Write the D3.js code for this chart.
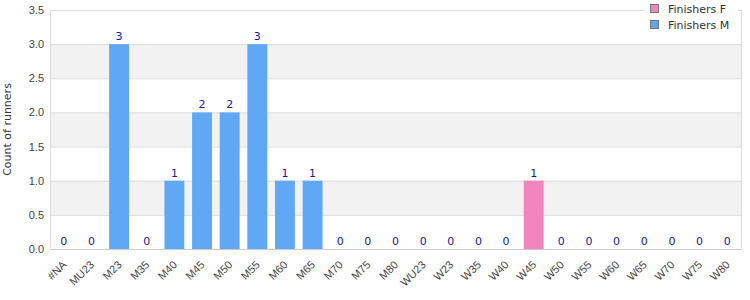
<!DOCTYPE html>
<html>
<head>
<style>
  body { margin: 0; font-family: "DejaVu Sans", sans-serif; font-size: 11px; background: #fff; }
  .tick text { fill: #444; font-size: 11px; }
</style>
</head>
<body>
<script src="https://d3js.org/d3.v7.min.js"></script>
<script>
const categories = ["#NA","MU23","M23","M35","M40","M45","M50","M55","M60","M65","M70","M75","M80",
  "WU23","W23","W35","W40","W45","W50","W55","W60","W65","W70","W75","W80"];
const finishersM = [0,0,3,0,1,2,2,3,1,1,0,0,0,0,0,0,0,0,0,0,0,0,0,0,0];
const finishersF = [0,0,0,0,0,0,0,0,0,0,0,0,0,0,0,0,0,1,0,0,0,0,0,0,0];
const yTicks = [0,0.5,1,1.5,2,2.5,3,3.5];
const seriesNames = ["Finishers F", "Finishers M"];
const colors = {"Finishers F": "#f285bd", "Finishers M": "#61a8f4"};

const width = 750, height = 300;
const margin = {top: 10, right: 9, bottom: 51, left: 50};

const svg = d3.select("body").append("svg")
  .attr("width", width).attr("height", height);

const x = d3.scaleBand().domain(categories)
  .range([margin.left, width - margin.right]).paddingInner(0.28).paddingOuter(0.14);
const y = d3.scaleLinear().domain([0, 3.5]).range([height - margin.bottom, margin.top]);

// alternating bands
for (let i = 0; i < yTicks.length - 1; i++) {
  if (i % 2 === 1) {
    svg.append("rect")
      .attr("x", margin.left).attr("width", width - margin.right - margin.left)
      .attr("y", y(yTicks[i + 1])).attr("height", y(yTicks[i]) - y(yTicks[i + 1]))
      .attr("fill", "#f2f2f2");
  }
}
// gridlines
svg.append("g").selectAll("line").data(yTicks).join("line")
  .attr("x1", margin.left).attr("x2", width - margin.right)
  .attr("y1", d => y(d) + 0.5).attr("y2", d => y(d) + 0.5)
  .attr("stroke", "#ddd");
// plot border
svg.append("rect")
  .attr("x", margin.left + 0.5).attr("y", margin.top + 0.5)
  .attr("width", width - margin.right - margin.left).attr("height", y(0) - margin.top)
  .attr("fill", "none").attr("stroke", "#ddd");

// bars (stacked)
const rows = categories.map((c, i) => ({cat: c, "Finishers M": finishersM[i], "Finishers F": finishersF[i]}));
const stack = d3.stack().keys(["Finishers M", "Finishers F"])(rows);
svg.append("g").selectAll("g").data(stack).join("g")
  .attr("fill", d => colors[d.key])
  .selectAll("rect").data(d => d).join("rect")
  .attr("x", d => x(d.data.cat)).attr("width", x.bandwidth())
  .attr("y", d => y(d[1])).attr("height", d => y(d[0]) - y(d[1]));

// value labels
svg.append("g").selectAll("text").data(rows).join("text")
  .attr("x", d => x(d.cat) + x.bandwidth() / 2)
  .attr("y", d => y(d["Finishers M"] + d["Finishers F"]) - 4)
  .attr("text-anchor", "middle").attr("fill", "#1a1a96").attr("font-size", 11)
  .text(d => d["Finishers M"] + d["Finishers F"]);

// y axis
const yAxis = svg.append("g").attr("transform", `translate(${margin.left},0)`)
  .call(d3.axisLeft(y).tickValues(yTicks).tickFormat(d3.format(".1f")).tickSize(0).tickPadding(6));
yAxis.select(".domain").remove();

// x axis
const xAxis = svg.append("g").attr("transform", `translate(0,${y(0)})`)
  .call(d3.axisBottom(x).tickSize(0).tickPadding(8));
xAxis.select(".domain").attr("stroke", "#ccc");
xAxis.selectAll("text")
  .attr("text-anchor", "end")
  .attr("dy", "0.35em")
  .attr("transform", "translate(-5,8) rotate(-45)");

// y label
svg.append("text")
  .attr("transform", `translate(7,${(margin.top + y(0)) / 2}) rotate(-90)`)
  .attr("text-anchor", "middle").attr("dy", "0.35em")
  .attr("fill", "#333").attr("font-size", 11)
  .text("Count of runners");

// legend
const lg = svg.append("g").attr("transform", "translate(644,0)");
lg.append("rect").attr("x", 0).attr("y", 0).attr("width", 94).attr("height", 34).attr("fill", "#fff");
seriesNames.forEach((s, i) => {
  lg.append("rect").attr("x", 6.5).attr("y", 4.5 + i * 16).attr("width", 8).attr("height", 8)
    .attr("fill", colors[s]).attr("stroke", "#777");
  lg.append("text").attr("x", 24).attr("y", 9 + i * 16).attr("dy", "0.35em")
    .attr("fill", "#333").attr("font-size", 11).text(s);
});
</script>
</body>
</html>
